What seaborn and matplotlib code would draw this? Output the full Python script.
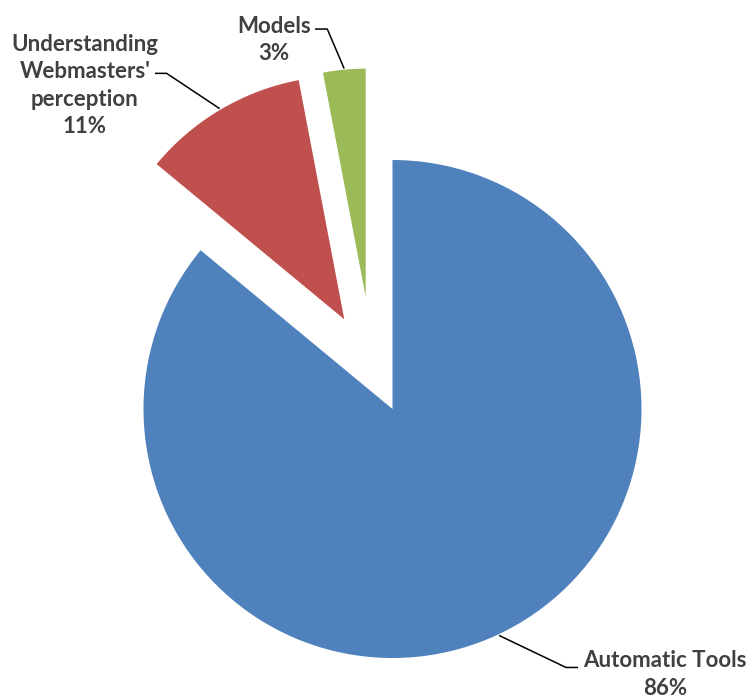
import numpy as np
import matplotlib
matplotlib.use("Agg")
import matplotlib.pyplot as plt
import seaborn as sns

# Share of research approaches
categories = ["Automatic Tools", "Understanding\nWebmasters'\nperception", "Models"]
shares = [86, 11, 3]
pct_labels = ["86%", "11%", "3%"]
slice_colors = ["#4F81BD", "#C0504D", "#9BBB59"]

sns.set_theme(style="white")
plt.rcParams["font.family"] = ["Lato", "DejaVu Sans"]

fig = plt.figure(figsize=(7.47, 6.98), dpi=100)
ax = fig.add_axes([0, 0, 1, 1])

wedges, _ = ax.pie(
    shares,
    colors=sns.color_palette(slice_colors),
    startangle=90,
    counterclock=False,
    radius=1.0,
    wedgeprops=dict(linewidth=0, antialiased=True),
)

# pulled-out slices: (center offset, radius) in units of the main radius
pull = {1: ((-0.1936, 0.3602), 0.978), 2: ((-0.1076, 0.4510), 0.916)}
for i, (c, r) in pull.items():
    wedges[i].set_center(c)
    wedges[i].set_radius(r)

# label anchors (baseline of the percentage line) and leader-line elbows
label_pos = [(1.094, -1.1466), (-1.235, 1.1084), (-0.477, 1.4016)]
elbows = [((0.697, -1.038), (0.745, -1.038)),
          ((-0.907, 1.348), (-0.954, 1.348)),
          ((-0.262, 1.526), (-0.311, 1.526))]

for i, w in enumerate(wedges):
    mid = np.deg2rad(0.5 * (w.theta1 + w.theta2))
    cx, cy = w.center
    r = w.r * 1.005
    start = (cx + r * np.cos(mid), cy + r * np.sin(mid))
    (ex, ey), (hx, hy) = elbows[i]
    ax.plot([start[0], ex, hx], [start[1], ey, hy], color="black",
            linewidth=1.1, solid_capstyle="butt", solid_joinstyle="miter")
    tx, ty = label_pos[i]
    ax.text(tx, ty, f"{categories[i]}\n{pct_labels[i]}", ha="center",
            va="baseline", multialignment="center", fontsize=16,
            fontweight="bold", color="#404040", linespacing=1.38)

ax.set_aspect("auto")
ax.set_xlim(-1.5763, 1.4237)
ax.set_ylim(-1.1606, 1.6426)
ax.set_axis_off()

fig.savefig("out.png", dpi=100, facecolor="white")
